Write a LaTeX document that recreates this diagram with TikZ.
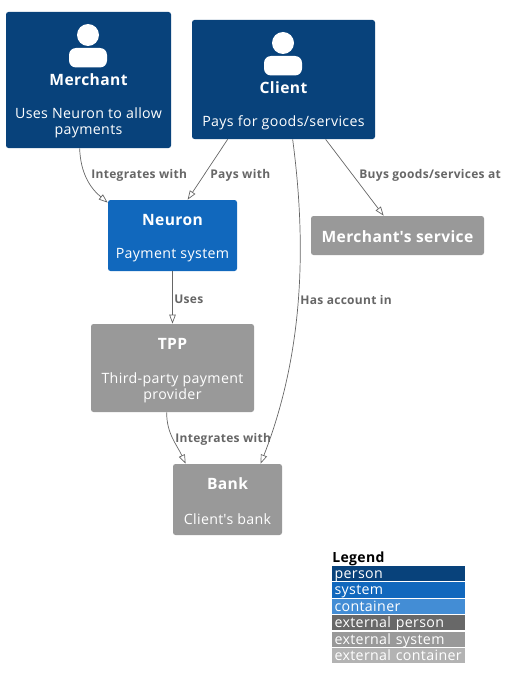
\documentclass[tikz,border=0pt]{standalone}
\usepackage{fontspec}
\setmainfont[LetterSpace=2.5]{Open Sans}
\usetikzlibrary{arrows.meta}
\definecolor{personblue}{HTML}{08427B}
\definecolor{systemblue}{HTML}{1168BD}
\definecolor{containerblue}{HTML}{438DD5}
\definecolor{extperson}{HTML}{686868}
\definecolor{extsystem}{HTML}{999999}
\definecolor{extcontainer}{HTML}{B3B3B3}
\definecolor{linegray}{HTML}{666666}
\tikzset{
  every picture/.style={line width=0.7pt},
  box/.style={rounded corners=2.5pt, inner sep=0pt},
  boxtext/.style={text=white, align=center, inner sep=0pt, font=\fontsize{14.2}{16}\selectfont},
  titletext/.style={text=white, inner sep=0pt, font=\fontsize{15.6}{18}\selectfont\bfseries},
  rel/.style={draw=linegray, -{Triangle[open, length=9pt, width=6.5pt]}},
  rellabel/.style={text=linegray, inner sep=0pt, anchor=west, font=\fontsize{12}{14}\selectfont\bfseries},
  legendrow/.style={minimum width=133pt, minimum height=15.2pt, inner sep=0pt, text=white, text width=128pt,
    text height=12.3pt, text depth=2.9pt, font=\fontsize{14.2}{15}\selectfont},
}
\begin{document}
\begin{tikzpicture}[x=1pt, y=-1pt]
  \useasboundingbox (0,0) rectangle (511,690);
  % boxes
  \node[box, fill=personblue, minimum width=165pt, minimum height=136pt] (merchant) at (88.5,80) {};
  \node[box, fill=personblue, minimum width=183pt, minimum height=119pt] (client) at (283.5,79.5) {};
  \node[box, fill=systemblue, minimum width=129pt, minimum height=71pt] (neuron) at (172.5,235.5) {};
  \node[box, fill=extsystem, minimum width=173pt, minimum height=39pt] (service) at (397.5,235.5) {};
  \node[box, fill=extsystem, minimum width=163pt, minimum height=88pt] (tpp) at (172.5,368) {};
  \node[box, fill=extsystem, minimum width=109pt, minimum height=71pt] (bank) at (227.5,499.5) {};
  % person icons
  \fill[white] (88,35) circle (11pt);
  \fill[white, rounded corners=7pt] (69,67.5) -- (69,48) -- (107,48) -- (107,67.5) -- cycle;
  \fill[white] (283,43) circle (11pt);
  \fill[white, rounded corners=7pt] (264,75.5) -- (264,56) -- (302,56) -- (302,75.5) -- cycle;
  % texts
  \node[titletext] (merchanttitle) at (88.5,79.5) {Merchant};
  \node[boxtext] (merchantdesc) at (88.5,123) {Uses Neuron to allow\\payments};
  \node[titletext] (clienttitle) at (283.5,87.5) {Client};
  \node[boxtext] (clientdesc) at (283.5,123) {Pays for goods/services};
  \node[titletext] (neurontitle) at (172.5,220) {Neuron};
  \node[boxtext] (neurondesc) at (172.5,255) {Payment system};
  \node[titletext] (servicetitle) at (397.5,236.5) {Merchant\textquotesingle s service};
  \node[titletext] (tpptitle) at (172.5,344) {TPP};
  \node[boxtext] (tppdesc) at (172.5,387.5) {Third-party payment\\provider};
  \node[titletext] (banktitle) at (227.5,484) {Bank};
  \node[boxtext] (bankdesc) at (227.5,519) {Client\textquotesingle s bank};
  % connectors
  \draw[rel] ([xshift=74pt]merchant.south west) to[out=-88, in=140] ([yshift=-3pt]neuron.north west);
  \draw[rel] ([xshift=36pt]client.south west) -- ([xshift=80pt]neuron.north west);
  \draw[rel] ([xshift=134pt]client.south west) -- ([xshift=73pt]service.north west);
  \draw[rel] ([xshift=101pt]client.south west) .. controls (306,240) and (305,350) .. ([xshift=88pt]bank.north west);
  \draw[rel] (neuron.south) -- (tpp.north);
  \draw[rel] ([xshift=76pt]tpp.south west) to[out=-90, in=115] ([xshift=13pt]bank.north west);
  % connector labels
  \node[rellabel] (integrates) at (91,175.5) {Integrates with};
  \node[rellabel] (payswith) at (210,175.5) {Pays with};
  \node[rellabel] (buys) at (359,175.5) {Buys goods/services at};
  \node[rellabel] (hasaccount) at (300,299.5) {Has account in};
  \node[rellabel] (uses) at (174,299.5) {Uses};
  \node[rellabel] (integratesbank) at (175,439.5) {Integrates with};
  % legend
  \node[anchor=west, inner sep=0pt, font=\fontsize{14}{15}\selectfont\bfseries] (legend) at (332,559) {Legend};
  \foreach \rowname/\rowcolor/\rowy/\rowtext in {
    person/personblue/573.6/person,
    system/systemblue/589.9/system,
    container/containerblue/606.4/container,
    extp/extperson/622.8/external person,
    exts/extsystem/639.3/external system,
    extc/extcontainer/655.8/external container}
    \node[legendrow, fill=\rowcolor] (\rowname) at (398.5,\rowy) {\rowtext};
\end{tikzpicture}
\end{document}
